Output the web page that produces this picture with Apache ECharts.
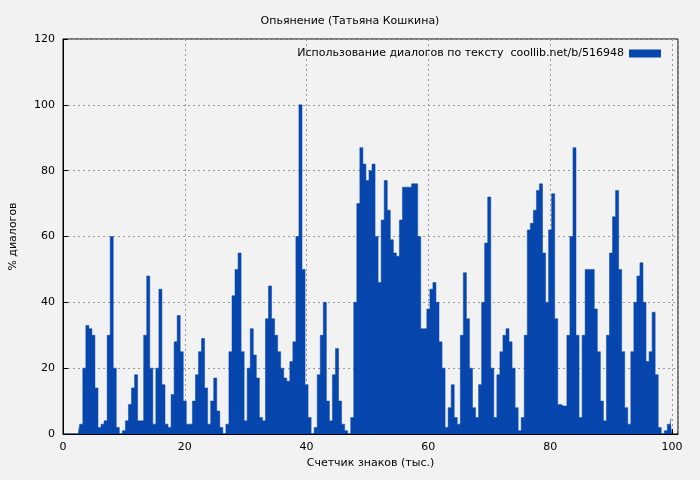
<!DOCTYPE html>
<html><head><meta charset="utf-8">
<script src="https://cdn.jsdelivr.net/npm/echarts@6/dist/echarts.min.js"></script>
<style>html,body{margin:0;padding:0;background:#f2f2f2}#c{width:700px;height:480px}</style>
</head><body><div id="c"></div>
<script>
const xStart = 0, xStep = 0.5;
const values = [0,0,0,0,0,0,3,20,33,32,30,14,2,3,4,30,60,20,2,0,
1,4,9,14,18,4,4,30,48,20,3,20,44,15,3,2,12,28,36,25,
10,3,3,10,18,25,29,14,3,10,17,7,2,0,3,25,42,50,55,25,
4,20,32,24,17,5,4,35,45,35,30,25,20,17,16,22,28,60,100,50,
15,5,0,2,18,30,40,10,4,18,26,10,3,1,0,5,40,70,87,82,
77,80,82,60,46,65,77,68,59,55,54,65,75,75,75,76,76,60,32,32,
38,44,46,40,28,20,2,8,15,5,3,30,49,35,20,8,5,15,40,58,
72,20,5,18,25,30,32,28,20,8,1,5,30,62,64,68,74,76,55,40,
62,73,35,9,8.5,8.5,30,60,87,30,5,30,50,50,50,38,25,10,4,30,
55,66,74,50,25,8,3,25,40,48,52,40,22,25,37,18,2,0,1,3,4.5];
const data = values.map((v,i)=>[xStart+i*xStep, v]);
const titleText = 'Опьянение (Татьяна Кошкина)';
const seriesName = 'Использование диалогов по тексту  coollib.net/b/516948';
const xName = 'Счетчик знаков (тыс.)', yName = '% диалогов';
const font = 'DejaVu Sans';
const chart = echarts.init(document.getElementById('c'));
chart.setOption({
  backgroundColor:'#f2f2f2', animation:false,
  title:{text:titleText,left:'center',top:11,textStyle:{fontFamily:font,fontSize:11,fontWeight:'normal',color:'#000'}},
  legend:{right:34,top:43,align:'right',itemWidth:32,itemHeight:8,itemGap:5,icon:'rect',
    textStyle:{fontFamily:font,fontSize:11,color:'#000'}},
  grid:{left:62,right:22,top:39,bottom:46,show:true,borderColor:'#000',borderWidth:1},
  xAxis:{type:'value',min:0,max:101,interval:20,name:xName,nameLocation:'middle',nameGap:24,
    nameTextStyle:{fontFamily:font,fontSize:11,color:'#000'},
    axisLabel:{fontFamily:font,fontSize:11,color:'#000',showMaxLabel:false},
    axisLine:{lineStyle:{color:'#000'}},axisTick:{inside:true,lineStyle:{color:'#000'}},
    splitLine:{lineStyle:{color:'#999',type:[2,3]}}},
  yAxis:{type:'value',min:0,max:120,interval:20,name:yName,nameLocation:'middle',nameGap:44,
    nameTextStyle:{fontFamily:font,fontSize:11,color:'#000'},
    axisLabel:{fontFamily:font,fontSize:11,color:'#000'},
    axisLine:{show:true,lineStyle:{color:'#000'}},axisTick:{show:true,inside:true,lineStyle:{color:'#000'}},
    splitLine:{lineStyle:{color:'#999',type:[2,3]}}},
  series:[{name:seriesName,type:'line',step:'middle',data:data,showSymbol:false,
    itemStyle:{color:'#0646ad'},lineStyle:{width:0.5,color:'#0646ad'},areaStyle:{color:'#0646ad',opacity:1}}]
});
</script></body></html>
